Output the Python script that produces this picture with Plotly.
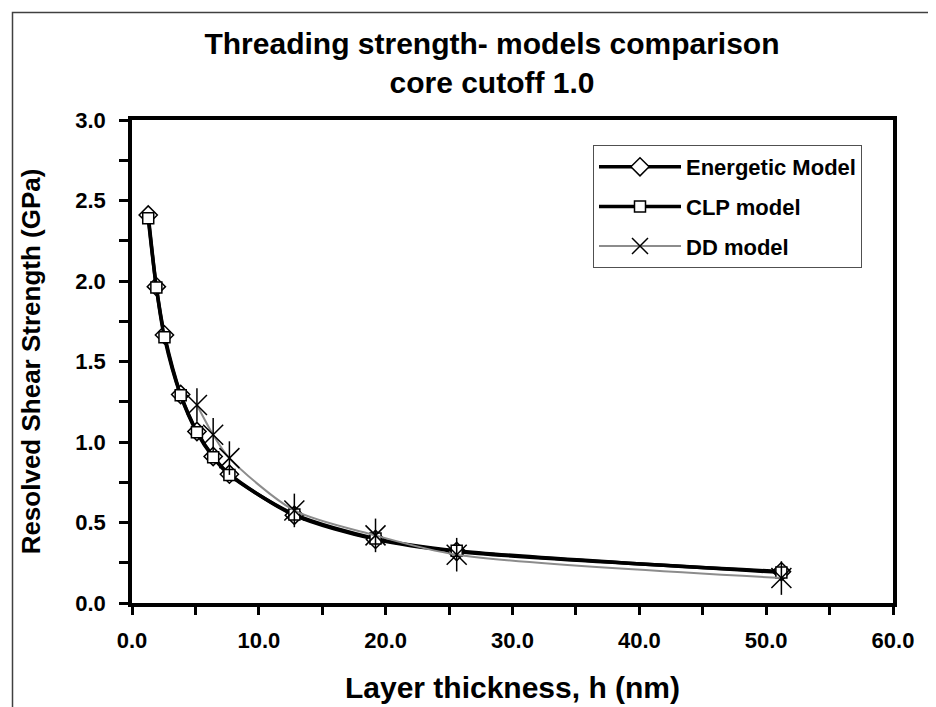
import plotly.graph_objects as go

h_values = [1.28, 1.92, 2.56, 3.84, 5.12, 6.4, 7.68, 12.8, 19.2, 25.6, 51.2]
energetic = [2.41, 1.965, 1.665, 1.295, 1.065, 0.91, 0.80, 0.545, 0.395, 0.32, 0.195]
clp = [2.39, 1.96, 1.65, 1.29, 1.06, 0.905, 0.795, 0.55, 0.40, 0.325, 0.19]
dd_h = [5.12, 6.4, 7.68, 12.8, 19.2, 25.6, 51.2]
dd = [1.23, 1.045, 0.90, 0.575, 0.42, 0.30, 0.155]

FONT = "Liberation Sans, Arial, sans-serif"

fig = go.Figure()
fig.add_trace(go.Scatter(
    x=h_values, y=energetic, name="<b>Energetic Model</b>", mode="lines+markers",
    legendgroup="e",
    line=dict(color="black", width=3.5, shape="spline", smoothing=0.8),
    marker=dict(symbol="diamond", size=14, color="white", line=dict(color="black", width=1.5)),
))
fig.add_trace(go.Scatter(
    x=h_values, y=clp, name="<b>CLP model</b>", mode="lines+markers",
    legendgroup="c",
    line=dict(color="black", width=3.5, shape="spline", smoothing=0.8),
    marker=dict(symbol="square", size=11, color="white", line=dict(color="black", width=1.5)),
))
fig.add_trace(go.Scatter(
    x=dd_h, y=dd, name="<b>DD model</b>", mode="lines+markers",
    legendgroup="d",
    line=dict(color="#8c8c8c", width=2, shape="spline", smoothing=0.8),
    marker=dict(symbol="x-thin-open", size=20, color="black", line=dict(color="black", width=1.5)),
))
fig.add_trace(go.Scatter(
    x=dd_h, y=dd, name="DD model", mode="markers", showlegend=False, hoverinfo="skip",
    legendgroup="d",
    marker=dict(symbol="line-ns-open", size=24, color="black", line=dict(color="black", width=1.5)),
))

L, R, T, B = 124, 51, 112, 112
W, H = 936, 707
pw = W - L - R
ph = H - T - B

fig.add_shape(type="rect", xref="paper", yref="paper",
              x0=(4.5 - L) / pw, x1=(980 - L) / pw,
              y0=(H - 780 - B) / ph, y1=(H - 4.5 - B) / ph,
              line=dict(color="#404040", width=1.5), layer="below")

fig.update_layout(
    width=W, height=H,
    margin=dict(l=L, r=R, t=T, b=B),
    paper_bgcolor="white", plot_bgcolor="white",
    font=dict(family=FONT, color="black"),
    title=dict(text="<b>Threading strength- models comparison<br>core cutoff 1.0</b>",
               x=484 / W, xanchor="center", y=1 - 46 / H, yanchor="top",
               font=dict(size=30, family=FONT)),
    legend=dict(x=(585 - L) / pw, y=(H - 137 - B) / ph, xanchor="left", yanchor="top",
                bgcolor="white", bordercolor="#505050", borderwidth=1,
                font=dict(size=22, family=FONT), tracegroupgap=8,
                traceorder="grouped", itemwidth=82),
    showlegend=True,
)
fig.update_xaxes(
    range=[0, 60], dtick=10, tick0=0, tickformat=".1f",
    ticks="outside", ticklen=8, tickwidth=3, tickcolor="black",
    minor=dict(dtick=5, ticks="outside", ticklen=8, tickwidth=3, tickcolor="black"),
    showline=True, linewidth=3.5, linecolor="black", mirror=True,
    showgrid=False, zeroline=False,
    tickfont=dict(size=22, family=FONT),
    title=dict(text="<b>Layer thickness, h (nm)</b>", font=dict(size=30, family=FONT), standoff=26),
    ticklabelstandoff=7,
    tickprefix="<b>", ticksuffix="</b>",
)
fig.update_yaxes(
    range=[0, 3], dtick=0.5, tick0=0, tickformat=".1f",
    ticks="outside", ticklen=9, tickwidth=3, tickcolor="black",
    minor=dict(dtick=0.25, ticks="outside", ticklen=9, tickwidth=3, tickcolor="black"),
    showline=True, linewidth=3.5, linecolor="black", mirror=True,
    showgrid=False, zeroline=False,
    tickfont=dict(size=22, family=FONT),
    title=dict(text="<b>Resolved Shear Strength (GPa)</b>", font=dict(size=26, family=FONT), standoff=28),
    ticklabelstandoff=9,
    tickprefix="<b>", ticksuffix="</b>",
)

fig.write_html("out.html")
